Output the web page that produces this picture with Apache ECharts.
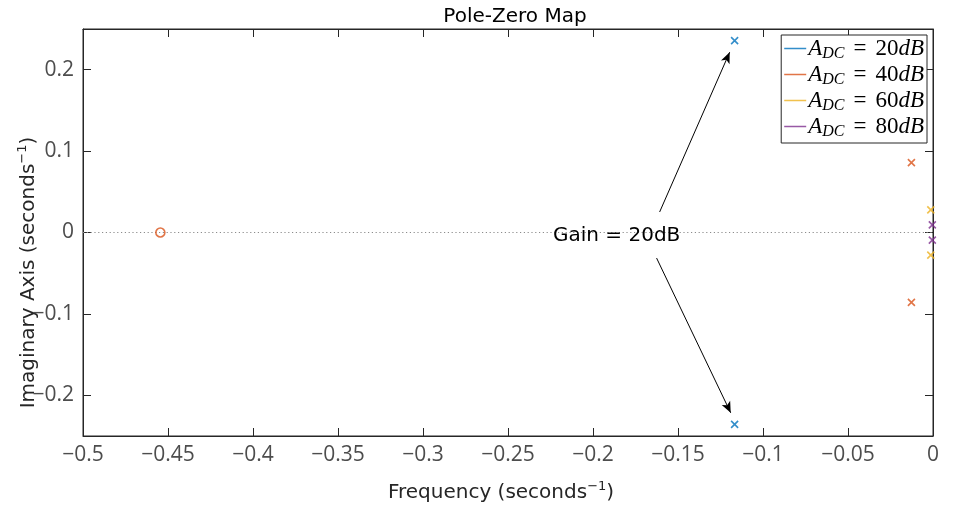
<!DOCTYPE html>
<html><head><meta charset="utf-8">
<script src="https://cdn.jsdelivr.net/npm/echarts@6/dist/echarts.min.js"></script>
<style>html,body{margin:0;padding:0;background:#fff}#c{width:961px;height:508px}</style>
</head><body><div id="c"></div>
<script>
const seriesNames = ['20', '40', '60', '80'];
const seriesColors = ['#0072BD', '#D95319', '#EDB120', '#7E2F8E'];
// poles: [real, imag]
const poles20 = [[-0.1167, 0.2357], [-0.1167, -0.2357]];
const poles40 = [[-0.0127, 0.0858], [-0.0127, -0.0858]];
const poles60 = [[-0.0013, 0.0278], [-0.0013, -0.0278]];
const poles80 = [[-0.0004, 0.0093], [-0.0004, -0.0093]];
const zeros = [[-0.4545, 0]];
const yTicks = [-0.2, -0.1, 0, 0.1, 0.2];
const annotText = 'Gain = 20dB';
const annotPos = [-0.1861, -0.0043];
const arrowUp = [[-0.1608, 0.0252], [-0.1196, 0.2215]];
const arrowDown = [[-0.1626, -0.0314], [-0.1190, -0.2215]];

const allPoles = [poles20, poles40, poles60, poles80];
const sans = '"DejaVu Sans", sans-serif';
const tickFont = '"Open Sans", sans-serif';
const serif = '"Liberation Serif", "DejaVu Serif", serif';
const axisCol = '#262626';
const crossPath = 'path://M0,0L10,10M10,0L0,10';
const fmt = v => {
  const r = Math.round(v * 100) / 100;
  return (r < 0 ? '\u2212' : '') + String(Math.abs(r));
};

const chart = echarts.init(document.getElementById('c'));
const series = allPoles.map((p, i) => ({
  name: seriesNames[i],
  type: 'scatter',
  data: p,
  symbol: crossPath,
  symbolSize: 7,
  itemStyle: {color: 'none', borderColor: seriesColors[i], borderWidth: 1.6},
  z: 5
}));
series.push({
  name: 'zeros', type: 'scatter', data: zeros, symbol: 'circle', symbolSize: 9,
  itemStyle: {color: 'none', borderColor: seriesColors[1], borderWidth: 1.6}, z: 6,
  markLine: {
    silent: true, symbol: ['none', 'none'],
    lineStyle: {color: '#8c8c8c', type: [1.2, 2.6], width: 1},
    label: {show: false},
    data: [{yAxis: 0}]
  }
});
series.push({
  name: 'annot', type: 'scatter', data: [], z: 8,
  markLine: {
    silent: true, symbol: ['none', 'arrow'], symbolSize: [7, 11],
    lineStyle: {color: '#000', type: 'solid', width: 1},
    label: {show: false},
    data: [
      [{coord: arrowUp[0]}, {coord: arrowUp[1]}],
      [{coord: arrowDown[0]}, {coord: arrowDown[1]}]
    ]
  },
  markPoint: {
    silent: true, symbol: 'rect', symbolSize: 0,
    label: {show: true, position: 'inside', formatter: annotText, color: '#000', fontSize: 20, fontFamily: sans},
    data: [{coord: annotPos}]
  }
});

const legendRich = {
  a: {fontFamily: serif, fontStyle: 'italic', fontSize: 23, color: '#000'},
  s: {fontFamily: serif, fontStyle: 'italic', fontSize: 16, color: '#000', padding: [11, 0, 0, 0]},
  e: {fontFamily: serif, fontSize: 23, color: '#000', padding: [0, 9, 0, 9]},
  n: {fontFamily: serif, fontSize: 23, color: '#000'}
};
const nameRich = {sup: {fontSize: 13, fontFamily: sans, color: axisCol, padding: [0, 0, 12, 0]}};

chart.setOption({
  animation: false,
  backgroundColor: '#fff',
  title: {text: 'Pole-Zero Map', left: 510, top: 2, textAlign: 'center',
    textStyle: {fontFamily: sans, fontSize: 20, fontWeight: 'normal', color: '#000'}},
  grid: {left: 83, right: 28, top: 29, bottom: 72, show: true, borderColor: axisCol, borderWidth: 1,
    backgroundColor: '#fff', containLabel: false, outerBoundsMode: 'none'},
  legend: {
    data: seriesNames.map((n, i) => ({name: n, icon: 'rect', itemStyle: {color: seriesColors[i], borderWidth: 0}})),
    orient: 'vertical', right: 34, top: 35,
    itemWidth: 22, itemHeight: 1.5, itemGap: 1,
    padding: [2, 3, 3, 3],
    borderColor: axisCol, borderWidth: 1, backgroundColor: '#fff',
    formatter: n => '{a|A}{s|DC}{e|=}{n|' + n + '}{a|dB}',
    textStyle: {rich: legendRich, padding: [0, 0, 0, -3]},
    selectedMode: false
  },
  xAxis: [{
    type: 'value', min: -0.5, max: 0, interval: 0.05, position: 'bottom',
    name: 'Frequency (seconds{sup|\u22121})', nameLocation: 'middle', nameGap: 44, nameMoveOverlap: false,
    nameTextStyle: {fontFamily: sans, fontSize: 20, color: axisCol, rich: nameRich, padding: [0, 14, 0, 0]},
    axisLine: {show: true, onZero: false, lineStyle: {color: axisCol}},
    axisTick: {show: true, inside: true, length: 8, lineStyle: {color: axisCol}},
    axisLabel: {fontFamily: tickFont, fontSize: 21, color: '#4d4d4d', margin: 9, formatter: fmt},
    splitLine: {show: false}
  }, {
    type: 'value', min: -0.5, max: 0, interval: 0.05, position: 'top',
    axisLine: {show: true, onZero: false, lineStyle: {color: axisCol}},
    axisTick: {show: true, inside: true, length: 8, lineStyle: {color: axisCol}},
    axisLabel: {show: false}, splitLine: {show: false}
  }],
  yAxis: [{
    type: 'value', min: -0.25, max: 0.25, position: 'left',
    name: 'Imaginary Axis (seconds{sup|\u22121})', nameLocation: 'middle', nameGap: 42, nameRotate: 90, nameMoveOverlap: false,
    nameTextStyle: {fontFamily: sans, fontSize: 20, color: axisCol, rich: nameRich, padding: [0, 80, 0, 0]},
    axisLine: {show: true, onZero: false, lineStyle: {color: axisCol}},
    axisTick: {show: true, inside: true, length: 8, customValues: yTicks, lineStyle: {color: axisCol}},
    axisLabel: {fontFamily: tickFont, fontSize: 21, color: '#4d4d4d', margin: 9, customValues: yTicks, formatter: fmt},
    splitLine: {show: false}
  }, {
    type: 'value', min: -0.25, max: 0.25, position: 'right',
    axisLine: {show: true, onZero: false, lineStyle: {color: axisCol}},
    axisTick: {show: true, inside: true, length: 8, customValues: yTicks, lineStyle: {color: axisCol}},
    axisLabel: {show: false}, splitLine: {show: false}
  }],
  series: series
});
</script></body></html>
